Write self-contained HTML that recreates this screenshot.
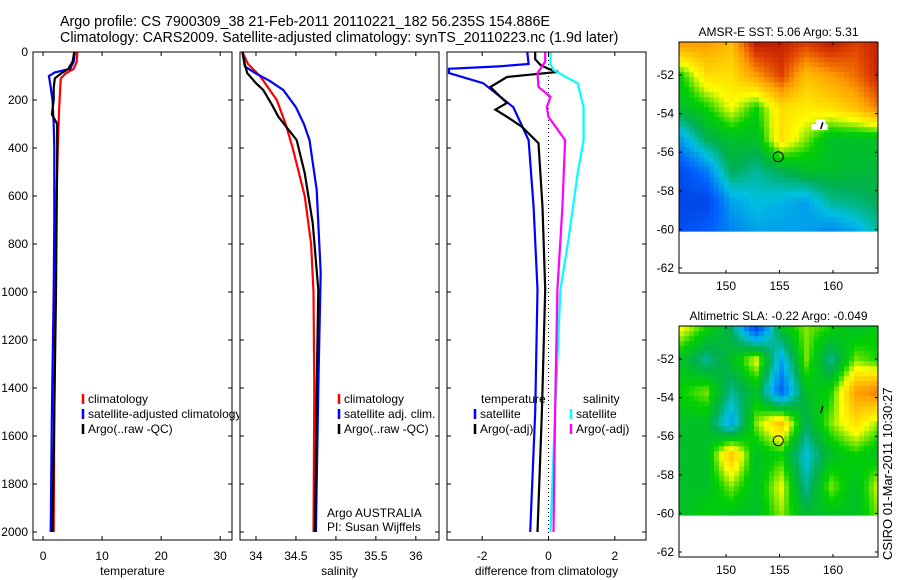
<!DOCTYPE html>
<html><head><meta charset="utf-8">
<style>
html,body{margin:0;padding:0;background:#fff;}
svg{display:block;font-family:"Liberation Sans",sans-serif;}
</style></head>
<body>
<svg id="chart" width="900" height="580" viewBox="0 0 900 580">
<text x="60" y="26" font-size="14.3">Argo profile: CS 7900309_38 21-Feb-2011 20110221_182 56.235S 154.886E</text>
<text x="60" y="42" font-size="14.3">Climatology: CARS2009. Satellite-adjusted climatology: synTS_20110223.nc (1.9d later)</text>
<g id="g"></g>
<text x="0" y="0" font-size="13" transform="translate(892,560) rotate(-90)">CSIRO 01-Mar-2011 10:30:27</text>
</svg>
<script>
// ---------- data ----------
const depthTicks=[0,200,400,600,800,1000,1200,1400,1600,1800,2000];
const tempTicks=[0,10,20,30];
const salTicks=[34,34.5,35,35.5,36];
const diffTicks=[-2,0,2];
const tempClimD=[0,40,70,90,110,150,250,400,600,1000,1500,2000];
const tempClim=[5.8,5.7,5.2,3.8,3.0,2.9,2.7,2.5,2.3,2.1,1.9,1.8];
const tempSatD=[0,40,70,85,100,130,200,300,400,700,1000,1500,2000];
const tempSat=[5.4,5.2,4.6,2.0,1.0,1.2,1.6,1.8,1.9,1.9,1.8,1.5,1.3];
const tempArgoD=[0,40,70,90,110,150,200,260,300,400,700,1000,1500,2000];
const tempArgo=[5.3,5.0,4.3,3.0,2.0,1.8,1.8,1.5,2.4,2.4,2.3,2.2,1.9,1.6];
const salClimD=[0,50,100,200,300,400,600,800,1000,1400,2000];
const salClim=[33.83,33.9,34.05,34.26,34.37,34.46,34.61,34.69,34.72,34.73,34.72];
const salSatD=[0,60,90,120,158,230,300,367,575,920,1400,2000];
const salSat=[33.83,33.86,34.0,34.17,34.34,34.5,34.6,34.67,34.76,34.81,34.78,34.75];
const salArgoD=[0,50,88,130,158,220,270,367,504,712,990,1400,2000];
const salArgo=[33.83,33.86,33.89,34.0,34.09,34.2,34.28,34.51,34.61,34.71,34.78,34.76,34.74];
const dTSatD=[0,50,60,70,88,130,230,367,646,990,1500,2000];
const dTSat=[-0.64,-0.6,-1.5,-3.0,-3.0,-1.97,-1.06,-0.6,-0.45,-0.33,-0.4,-0.55];
const dTArgoD=[0,30,54,70,83,95,104,146,180,212,240,270,312,380,646,990,1500,2000];
const dTArgo=[-0.4,-0.4,-0.24,0.0,0.3,-0.6,-1.25,-1.75,-1.5,-1.25,-1.6,-1.25,-0.8,-0.3,-0.18,-0.1,-0.2,-0.33];
const dSArgoD=[0,40,88,146,187,230,270,367,646,990,1500,2000];
const dSArgo=[-0.1,-0.1,-0.33,-0.3,0.06,-0.05,0.0,0.5,0.42,0.27,0.2,0.15];
const dSSatD=[0,50,75,110,130,230,367,504,783,990,1500,2000];
const dSSat=[0.06,0.06,0.15,0.6,0.88,1.06,1.06,0.88,0.6,0.36,0.2,0.06];
const sstGrid=[
[.8,.8,.75,.95,.95,.9,.95,.9,.95],
[.55,.7,.7,.8,.9,.75,.8,.85,.95],
[.5,.55,.65,.55,.7,.68,.7,.75,.85],
[.3,.45,.5,.5,.7,.6,.5,.5,.5],
[.15,.25,.45,.4,.45,.5,.5,.48,.48],
[.12,.12,.3,.35,.33,.3,.4,.42,.45],
[.15,.2,.25,.3,.3,.3,.25,.3,.4]];
const slaGrid=[
[.65,.55,.45,.15,.5,.6,.55,.5,.55],
[.5,.4,.5,.65,.3,.6,.4,.6,.55],
[.55,.6,.4,.5,.2,.5,.55,.8,.85],
[.5,.5,.3,.6,.75,.45,.6,.7,.6],
[.5,.5,.75,.5,.55,.35,.5,.55,.5],
[.5,.5,.6,.5,.65,.4,.6,.5,.65],
[.5,.55,.5,.5,.6,.5,.5,.5,.6]];
const lonTicks=[150,155,160];
const latTicks=[-52,-54,-56,-58,-60,-62];
const argoLon=154.886, argoLat=-56.235;

// ---------- drawing ----------
const NS="http://www.w3.org/2000/svg";
const G=document.getElementById('g');
function el(tag,attrs,parent){const e=document.createElementNS(NS,tag);for(const k in attrs)e.setAttribute(k,attrs[k]);(parent||G).appendChild(e);return e;}
const PT=52,PB=540;
const yD=d=>PT+d*0.24;
const panels=[
 {x0:33,x1:232,vmin:-1.7,vmax:32,name:'temperature-panel',label:'temperature',ticks:tempTicks},
 {x0:240,x1:439,vmin:33.8,vmax:36.29,name:'salinity-panel',label:'salinity',ticks:salTicks},
 {x0:447,x1:646,vmin:-3.06,vmax:2.94,name:'difference-panel',label:'difference from climatology',ticks:diffTicks}];
panels.forEach(p=>{p.sx=v=>p.x0+(v-p.vmin)/(p.vmax-p.vmin)*(p.x1-p.x0);});
panels.forEach((p,pi)=>{
 const clip=el('clipPath',{id:'c'+pi});el('rect',{x:p.x0,y:PT,width:p.x1-p.x0,height:PB-PT},clip);
 p.g=el('g',{'clip-path':'url(#c'+pi+')'});
});
function lineIn(p,D,V,color,name,w,dash){
 const pts=D.map((d,i)=>p.sx(V[i]).toFixed(1)+','+yD(d).toFixed(1)).join(' ');
 const e=el('polyline',{points:pts,fill:'none',stroke:color,'stroke-width':w||2.2},p.g);
 if(dash)e.setAttribute('stroke-dasharray',dash);
 
 
}
const P1=panels[0],P2=panels[1],P3=panels[2];
lineIn(P1,tempClimD,tempClim,'#f00','temp-climatology-line');
lineIn(P1,tempSatD,tempSat,'#00f','temp-satellite-line');
lineIn(P1,tempArgoD,tempArgo,'#000','temp-argo-line');
lineIn(P2,salClimD,salClim,'#f00','sal-climatology-line');
lineIn(P2,salSatD,salSat,'#00f','sal-satellite-line');
lineIn(P2,salArgoD,salArgo,'#000','sal-argo-line');
lineIn(P3,[0,2040],[0,0],'#000','zero-line',1,'1,3');
lineIn(P3,dTSatD,dTSat,'#00f','diff-temp-satellite-line');
lineIn(P3,dTArgoD,dTArgo,'#000','diff-temp-argo-line');
lineIn(P3,dSSatD,dSSat,'#0ff','diff-sal-satellite-line');
lineIn(P3,dSArgoD,dSArgo,'#f0f','diff-sal-argo-line');
panels.forEach((p,pi)=>{
 const f=el('rect',{x:p.x0,y:PT,width:p.x1-p.x0,height:PB-PT,fill:'none',stroke:'#000','stroke-width':1});
 
 p.ticks.forEach(t=>{const x=p.sx(t);
  el('line',{x1:x,x2:x,y1:PT,y2:PT+4,stroke:'#000'});el('line',{x1:x,x2:x,y1:PB,y2:PB-4,stroke:'#000'});
  const tx=el('text',{x:x,y:560,'font-size':12,'text-anchor':'middle'});tx.textContent=t;
  });
 depthTicks.forEach(d=>{const y=yD(d);
  el('line',{x1:p.x0,x2:p.x0+4,y1:y,y2:y,stroke:'#000'});el('line',{x1:p.x1,x2:p.x1-4,y1:y,y2:y,stroke:'#000'});
  if(pi===0){const tx=el('text',{x:28,y:y+4,'font-size':12,'text-anchor':'end'});tx.textContent=d;
   }});
 const xl=el('text',{x:(p.x0+p.x1)/2,y:575,'font-size':12,'text-anchor':'middle'});xl.textContent=p.label;
 
});
function leg(x,y,color,txt,clipId){
 el('line',{x1:x,x2:x,y1:y-9,y2:y+1,stroke:color,'stroke-width':2.5});
 const t=el('text',{x:x+5,y:y,'font-size':12});t.textContent=txt;
 if(clipId)t.setAttribute('clip-path','url(#'+clipId+')');
 
}
const lc=el('clipPath',{id:'lc'});el('rect',{x:0,y:0,width:239,height:580},lc);
leg(83,403,'#f00','climatology');leg(83,418,'#00f','satellite-adjusted climatology','lc');leg(83,433,'#000','Argo(..raw -QC)');
leg(339,403,'#f00','climatology');leg(339,418,'#00f','satellite adj. clim.');leg(339,433,'#000','Argo(..raw -QC)');
let h=el('text',{x:481,y:403,'font-size':12});h.textContent='temperature';
h=el('text',{x:583,y:403,'font-size':12});h.textContent='salinity';
leg(475,418,'#00f','satellite');leg(475,433,'#000','Argo(-adj)');leg(571,418,'#0ff','satellite');leg(571,433,'#f0f','Argo(-adj)');
let t=el('text',{x:327,y:517,'font-size':12});t.textContent='Argo AUSTRALIA';
t=el('text',{x:327,y:531,'font-size':12});t.textContent='PI: Susan Wijffels';

// ---------- maps ----------
const cmapStops=[[0,[0,32,192]],[0.2,[0,96,255]],[0.35,[0,192,224]],[0.45,[0,176,80]],[0.55,[0,208,0]],[0.65,[255,255,0]],[0.8,[255,160,0]],[0.9,[224,64,0]],[1,[160,0,0]]];
function cmap(v){v=Math.max(0,Math.min(1,v));for(let i=1;i<cmapStops.length;i++){const[a,ca]=cmapStops[i-1],[b,cb]=cmapStops[i];if(v<=b){const f=(v-a)/(b-a);return 'rgb('+ca.map((c,k)=>Math.round(c+(cb[k]-c)*f)).join(',')+')';}}return 'rgb(160,0,0)';}
let mapId=0;
function drawMap(top,title,grid,name,extra){
 const X0=679,X1=878,Y1=top+231;
 const sx=lon=>726+(lon-150)*10.7;
 const sy=lat=>(top+33)+(-52-lat)*19.3;
 const latMax=-50.3,latMin=-60.1;
 const R=grid.length,C=grid[0].length,step=5;
 const cid='mc'+(mapId++);
 const clip=el('clipPath',{id:cid});el('rect',{x:X0,y:top,width:X1-X0,height:Y1-top},clip);
 const gx=el('g',{'clip-path':'url(#'+cid+')'});
 const xa=X0,xb=X1,ya=Math.max(top,sy(latMax)),yb=sy(latMin);
 for(let y=ya;y<yb;y+=step){for(let x=xa;x<xb;x+=step){
  const u=(x-xa)/(xb-xa)*(C-1),v=(y-ya)/(yb-ya)*(R-1);
  const i=Math.min(Math.floor(v),R-2),j=Math.min(Math.floor(u),C-2),fu=u-j,fv=v-i;
  const val=grid[i][j]*(1-fu)*(1-fv)+grid[i][j+1]*fu*(1-fv)+grid[i+1][j]*(1-fu)*fv+grid[i+1][j+1]*fu*fv;
  el('rect',{x:x.toFixed(1),y:y.toFixed(1),width:step+0.5,height:Math.min(step,yb-y)+0.3,fill:cmap(val)},gx);}}
 if(extra)extra(sx,sy,gx);
 const c=el('circle',{cx:sx(argoLon),cy:sy(argoLat),r:5,fill:'none',stroke:'#000','stroke-width':1});
 
 el('line',{x1:sx(159.05),y1:sy(-54.45),x2:sx(158.85),y2:sy(-54.8),stroke:'#000','stroke-width':1.5});
 const f=el('rect',{x:X0,y:top,width:X1-X0,height:Y1-top,fill:'none',stroke:'#000'});
 
 const tt=el('text',{x:(X0+X1)/2,y:top-6,'font-size':12,'text-anchor':'middle'});tt.textContent=title;
 
 lonTicks.forEach(l=>{const x=sx(l);el('line',{x1:x,x2:x,y1:top,y2:top+3,stroke:'#000'});el('line',{x1:x,x2:x,y1:Y1,y2:Y1-3,stroke:'#000'});
  const q=el('text',{x:x,y:Y1+17,'font-size':12,'text-anchor':'middle'});q.textContent=l;});
 latTicks.forEach(l=>{const y=sy(l);el('line',{x1:X0,x2:X0+3,y1:y,y2:y,stroke:'#000'});el('line',{x1:X1,x2:X1-3,y1:y,y2:y,stroke:'#000'});
  const q=el('text',{x:X0-5,y:y+4,'font-size':12,'text-anchor':'end'});q.textContent=l;});
}
drawMap(42,'AMSR-E SST: 5.06 Argo: 5.31',sstGrid,'sst-map',(sx,sy,gx)=>{
 el('rect',{x:sx(158.4),y:sy(-54.3),width:sx(159.3)-sx(158.4),height:sy(-54.8)-sy(-54.3),fill:'#fff'},gx);
 el('rect',{x:sx(158.0),y:sy(-54.55),width:sx(159.5)-sx(158.0),height:sy(-54.85)-sy(-54.55),fill:'#fff'},gx);
});
drawMap(326,'Altimetric SLA: -0.22 Argo: -0.049',slaGrid,'sla-map');
</script>
</body></html>
